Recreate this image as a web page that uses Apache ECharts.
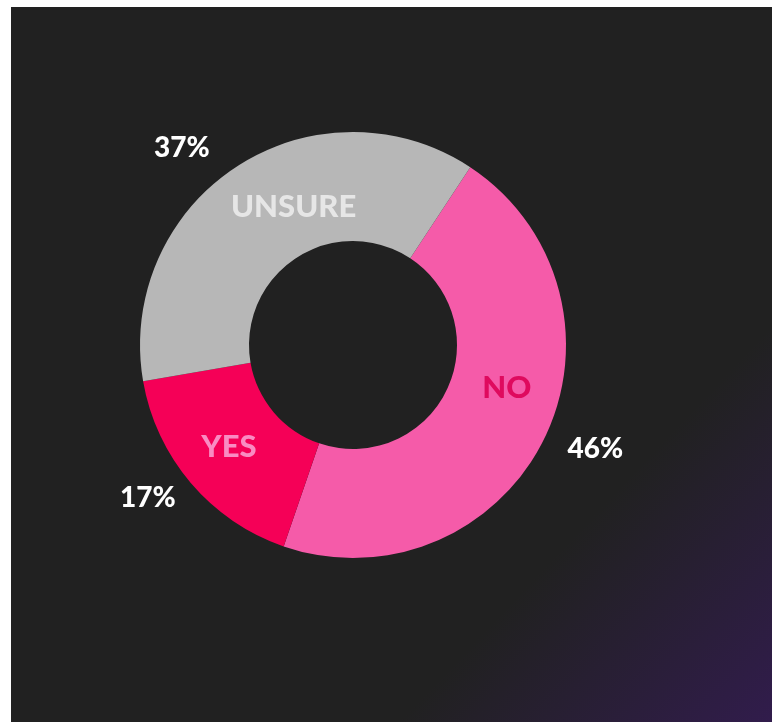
<!DOCTYPE html>
<html>
<head>
<meta charset="utf-8">
<script src="https://cdn.jsdelivr.net/npm/echarts@6/dist/echarts.min.js"></script>
<style>
  html, body { margin: 0; padding: 0; background: #ffffff; }
  #chart { position: absolute; left: 11px; top: 7px; width: 761px; height: 715px; }
</style>
</head>
<body>
<div id="chart"></div>
<script>
// Survey answers, share of respondents (%)
const categories = ['NO', 'YES', 'UNSURE'];
const shares = [46, 17, 37];

// Slice fill and in-slice label colours, same order as categories
const sliceColors = ['#f55ba9', '#f50057', '#b7b7b7'];
const nameColors = ['#df0a5e', '#f98bc2', '#e6e6e6'];

// Small nudges for label placement inside / outside the ring
const nameNudge = [[9, -28], [-1, -3], [29, -3]];
const shareNudge = [[1, -1], [4, -1], [-13, 2]];

const chart = echarts.init(document.getElementById('chart'));

const pieData = categories.map((name, i) => ({
  name: name,
  value: shares[i],
  itemStyle: { color: sliceColors[i] },
  label: { color: nameColors[i] }
}));

const common = {
  type: 'pie',
  center: [342, 338],
  radius: [104, 213],
  startAngle: 56.6,
  clockwise: true,
  avoidLabelOverlap: false,
  animation: false,
  emphasis: { disabled: true }
};

chart.setOption({
  backgroundColor: {
    type: 'linear', x: 0, y: 0, x2: 1, y2: 1,
    colorStops: [
      { offset: 0, color: '#212121' },
      { offset: 0.74, color: '#212121' },
      { offset: 1, color: '#311c4c' }
    ]
  },
  series: [
    Object.assign({}, common, {
      name: 'answers',
      data: pieData,
      label: {
        show: true,
        position: 'inside',
        formatter: '{b}',
        fontFamily: 'Lato',
        fontWeight: 900,
        fontSize: 31
      },
      labelLine: { show: false },
      labelLayout: p => ({ dx: nameNudge[p.dataIndex][0], dy: nameNudge[p.dataIndex][1] })
    }),
    Object.assign({}, common, {
      name: 'shares',
      silent: true,
      data: categories.map((name, i) => ({ name: name, value: shares[i] })),
      itemStyle: { color: 'rgba(0,0,0,0)' },
      label: {
        show: true,
        position: 'outside',
        formatter: '{d}%',
        color: '#ffffff',
        fontFamily: 'Lato',
        fontWeight: 900,
        fontSize: 28,
        distanceToLabelLine: 0
      },
      labelLine: { show: false, length: 25, length2: 0 },
      labelLayout: p => ({ dx: shareNudge[p.dataIndex][0], dy: shareNudge[p.dataIndex][1] })
    })
  ]
});
</script>
</body>
</html>
